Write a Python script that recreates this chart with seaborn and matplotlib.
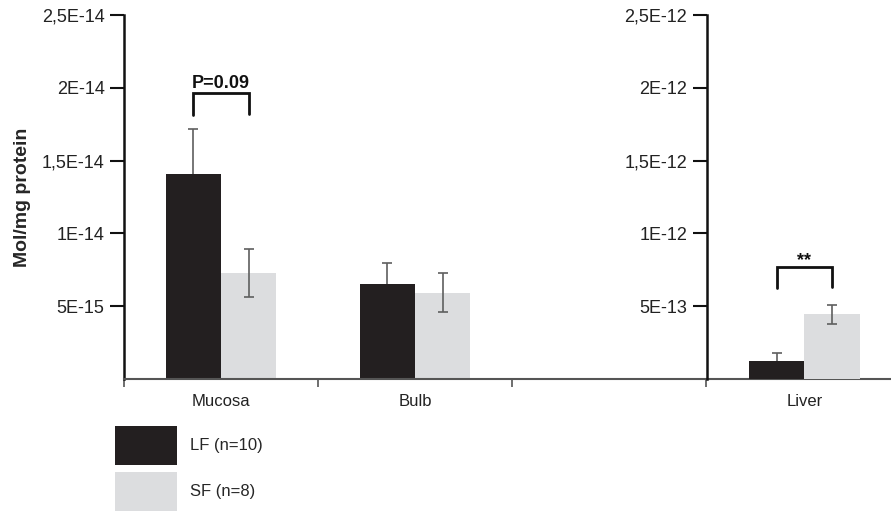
import matplotlib
matplotlib.use("Agg")
import matplotlib.pyplot as plt
import numpy as np
import pandas as pd
import seaborn as sns

# values
tissues = ["Mucosa", "Bulb"]
groups = ["LF (n=10)", "SF (n=8)"]
lf_means = [1.41e-14, 0.65e-14]
sf_means = [0.726e-14, 0.593e-14]
lf_err = [0.31e-14, 0.145e-14]
sf_err = [0.165e-14, 0.133e-14]

liver_means = [0.126e-12, 0.444e-12]   # LF, SF
liver_err = [0.05e-12, 0.063e-12]

left_ticks = [5e-15, 1e-14, 1.5e-14, 2e-14, 2.5e-14]
left_labels = ["5E-15", "1E-14", "1,5E-14", "2E-14", "2,5E-14"]
right_ticks = [5e-13, 1e-12, 1.5e-12, 2e-12, 2.5e-12]
right_labels = ["5E-13", "1E-12", "1,5E-12", "2E-12", "2,5E-12"]

colors = ["#231f20", "#dcdddf"]
err_color = "#5f5f5f"

sns.set_style("white")
plt.rcParams["font.family"] = ["Liberation Sans", "DejaVu Sans"]

df = pd.DataFrame({
    "tissue": tissues * 2,
    "group": [groups[0]] * 2 + [groups[1]] * 2,
    "value": lf_means + sf_means,
})
err_lookup = {}
for i, t in enumerate(tissues):
    err_lookup[(t, 0)] = lf_err[i]
    err_lookup[(t, 1)] = sf_err[i]

liver_df = pd.DataFrame({"tissue": ["Liver", "Liver"], "group": groups, "value": liver_means})

fig = plt.figure(figsize=(8.91, 5.11), dpi=100)
bottom = 1 - 379 / 511
height = (379 - 15) / 511
ax = fig.add_axes([124 / 891, bottom, 1 - 124 / 891, height])

sns.barplot(data=df, x="tissue", y="value", hue="group", order=tissues,
            hue_order=groups, palette=colors, width=0.57, errorbar=None,
            saturation=1, linewidth=0, ax=ax)
ax.set_xlim(-0.5, -0.5 + 767 / 194)
ax.set_ylim(0, 2.5e-14)

# error bars from the drawn bars; LF lower half hides behind the dark bar
centers = {}
for p in ax.patches:
    if p.get_height() <= 0:
        continue
    xc = p.get_x() + p.get_width() / 2
    idx = int(round(xc))
    g = 0 if xc < idx else 1
    t = tissues[idx]
    centers[(t, g)] = xc
    e = err_lookup[(t, g)]
    ax.errorbar([xc], [p.get_height()], yerr=e, fmt="none", ecolor=err_color,
                elinewidth=1.2, capsize=3.5, capthick=1.2,
                zorder=0.5 if g == 0 else 3)

# bracket over Mucosa
x0, x1 = centers[("Mucosa", 0)], centers[("Mucosa", 1)]
ax.plot([x0, x0, x1, x1], [1.81e-14, 1.964e-14, 1.964e-14, 1.82e-14],
        color="#111111", lw=2, solid_joinstyle="miter", clip_on=False)
ax.text((x0 + x1) / 2, 2.0e-14, "P=0.09", ha="center", va="baseline",
        fontsize=13, fontweight="bold", color="#111111")

ax.set_yticks(left_ticks, left_labels)
ax.set_xlabel("")
ax.set_ylabel("Mol/mg protein", fontsize=14, fontweight="bold")
ax.yaxis.set_label_coords(-0.121, 0.5)
for s in ["top", "right"]:
    ax.spines[s].set_visible(False)
ax.spines["left"].set_color("#111111")
ax.spines["left"].set_linewidth(1.8)
ax.spines["bottom"].set_color("#555555")
ax.spines["bottom"].set_linewidth(1.5)
ax.tick_params(axis="y", direction="out", length=10, width=1.5, color="#111111",
               labelsize=13, labelcolor="#222222", pad=4, left=True)
ax.tick_params(axis="x", which="major", length=0, labelsize=12, labelcolor="#222222", pad=11)
ax.set_xticks([-0.5, 0.5, 1.5, 2.5], minor=True)
ax.tick_params(axis="x", which="minor", direction="out", length=6, width=1.2,
               color="#555555", bottom=True)

sns.move_legend(ax, "upper left", bbox_to_anchor=(115 / 891, 1 - 426 / 511),
                bbox_transform=fig.transFigure, frameon=False, title=None,
                fontsize=12, handlelength=3.7, handleheight=3.2,
                handletextpad=0.8, labelspacing=0.45, borderpad=0, borderaxespad=0)

# liver on its own scale
ax2 = fig.add_axes([706.7 / 891, bottom, 1 - 706.7 / 891, height])
ax2.patch.set_alpha(0)
sns.barplot(data=liver_df, x="tissue", y="value", hue="group", hue_order=groups,
            palette=colors, width=0.57, errorbar=None, saturation=1,
            linewidth=0, legend=False, ax=ax2)
ax2.set_xlim(-0.503, -0.503 + 184.3 / 194)
ax2.set_ylim(0, 2.5e-12)
liver_x = []
for p in ax2.patches:
    if p.get_height() <= 0:
        continue
    liver_x.append((p.get_x() + p.get_width() / 2, p.get_height()))
liver_x.sort()
for g, (xc, h) in enumerate(liver_x):
    ax2.errorbar([xc], [h], yerr=liver_err[g], fmt="none", ecolor=err_color,
                 elinewidth=1.2, capsize=3.5, capthick=1.2,
                 zorder=0.5 if g == 0 else 3)

x0, x1 = liver_x[0][0], liver_x[1][0]
ax2.plot([x0, x0, x1, x1], [0.625e-12, 0.771e-12, 0.771e-12, 0.635e-12],
         color="#111111", lw=2, solid_joinstyle="miter", clip_on=False)
ax2.text((x0 + x1) / 2, 0.78e-12, "**", ha="center", va="baseline",
         fontsize=13, fontweight="bold", color="#111111")

ax2.set_yticks(right_ticks, right_labels)
ax2.set_xlabel("")
ax2.set_ylabel("")
for s in ["top", "right", "bottom"]:
    ax2.spines[s].set_visible(False)
ax2.spines["left"].set_color("#111111")
ax2.spines["left"].set_linewidth(1.8)
ax2.tick_params(axis="y", direction="out", length=10, width=1.5, color="#111111",
                labelsize=13, labelcolor="#222222", pad=4, left=True)
ax2.tick_params(axis="x", length=0, labelsize=12, labelcolor="#222222", pad=11)

fig.savefig("out.png", dpi=100)
